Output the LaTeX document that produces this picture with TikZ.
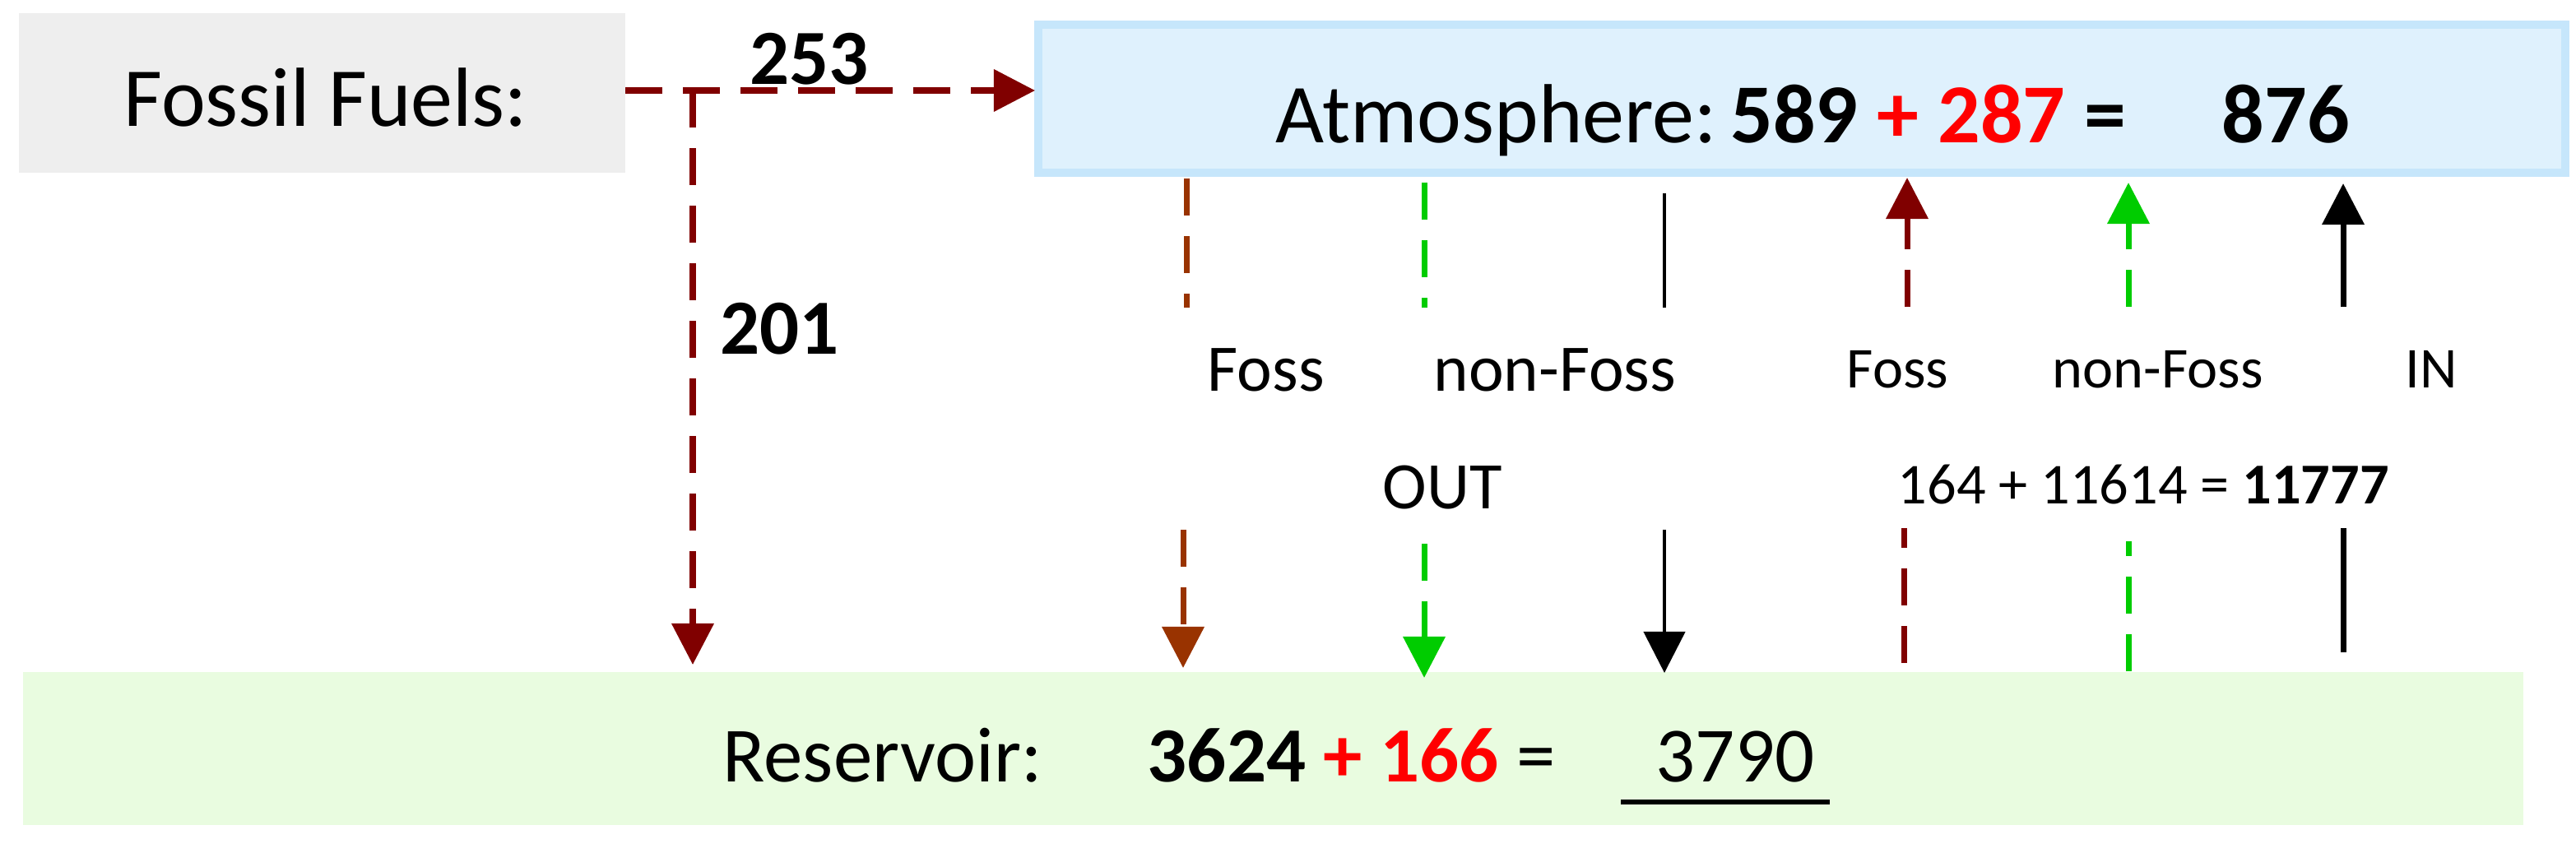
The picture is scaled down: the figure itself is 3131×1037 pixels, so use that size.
\documentclass[tikz,border=0pt]{standalone}
\usepackage{fontspec}
\setmainfont{Carlito}
\usetikzlibrary{arrows.meta}
\definecolor{fossred}{HTML}{800000}
\definecolor{fossbrown}{HTML}{993300}
\definecolor{nongreen}{HTML}{00CC00}
\definecolor{atmofill}{HTML}{DFF1FD}
\definecolor{atmoline}{HTML}{C6E6FB}
\definecolor{resfill}{HTML}{E9FCE0}
\definecolor{fuelfill}{HTML}{EEEEEE}
\begin{document}
\begin{tikzpicture}[x=0.01cm, y=-0.01cm,
    txt/.style={anchor=base west, inner sep=0pt, font=\fontsize{27}{30}\selectfont},
    btxt/.style={anchor=base west, inner sep=0pt, font=\fontsize{29}{32}\selectfont},
    lab/.style={anchor=base west, inner sep=0pt, font=\fontsize{23}{26}\selectfont},
    slab/.style={anchor=base west, inner sep=0pt, font=\fontsize{20}{23}\selectfont},
    tip/.style={-{Triangle[length=0.5cm, width=0.5cm]}},
    dsh/.style={line width=2pt, dash pattern=on 0.45cm off 0.25cm}]
        \useasboundingbox (0, 0) rectangle (3131, 1037);
        % Boxes
        \fill [fuelfill] (23, 16) rectangle (760, 210);
        \draw [atmoline, line width=3pt, fill=atmofill] (1262, 30) rectangle (3118, 210);
        \fill [resfill] (28, 817) rectangle (3067, 1003);
        \node [btxt] (fuel) at (150, 154) {Fossil Fuels:};
        \node [btxt] (atmo) at (1550, 174) {Atmosphere:\,\textbf{589} \textcolor{red}{\textbf{+ 287}} \textbf{=}};
        \node [btxt] (atmosum) at (2700, 174) {\textbf{876}};
        \node [txt] (res) at (878, 950) {Reservoir:};
        \node [txt] (ressum) at (1394, 950) {\textbf{3624} \textcolor{red}{\textbf{+ 166}} =};
        \node [txt] (restot) at (2012, 950) {3790};
        \draw [line width=1.5pt] (1970, 975) -- (2224, 975);
        % Fossil fuel flows
        \coordinate (split) at (842, 110);
        \coordinate (fstart) at (760, 110);
        \coordinate (fatmo) at (1258, 110);
        \coordinate (fres) at (842, 808);
        \draw [fossred, dsh, tip] (fstart) -- (fatmo);
        \draw [fossred, dsh, tip] (split) -- (fres);
        \node [txt, font=\fontsize{27}{30}\selectfont\bfseries] (nA) at (911, 103) {253};
        \node [txt, font=\fontsize{27}{30}\selectfont\bfseries] (nB) at (875, 431) {201};
        % OUT arrows
        \coordinate (o1a) at (1442, 217); \coordinate (o1b) at (1442, 374);
        \coordinate (o2a) at (1731, 222); \coordinate (o2b) at (1731, 374);
        \coordinate (o3a) at (2023, 235); \coordinate (o3b) at (2023, 374);
        \coordinate (o1c) at (1438, 644); \coordinate (o1d) at (1438, 812);
        \coordinate (o2c) at (1731, 661); \coordinate (o2d) at (1731, 824);
        \coordinate (o3c) at (2023, 644); \coordinate (o3d) at (2023, 818);
        \draw [fossbrown, dsh] (o1a) -- (o1b);
        \draw [nongreen, dsh] (o2a) -- (o2b);
        \draw [line width=1.2pt] (o3a) -- (o3b);
        \draw [fossbrown, dsh, tip] (o1c) -- (o1d);
        \draw [nongreen, dsh, tip] (o2c) -- (o2d);
        \draw [line width=1.2pt, tip] (o3c) -- (o3d);
        % IN arrows
        \coordinate (i1a) at (2314, 806); \coordinate (i1b) at (2314, 642);
        \coordinate (i2a) at (2587, 816); \coordinate (i2b) at (2587, 658);
        \coordinate (i3a) at (2848, 793); \coordinate (i3b) at (2848, 642);
        \coordinate (i1c) at (2318, 373); \coordinate (i1d) at (2318, 216);
        \coordinate (i2c) at (2587, 373); \coordinate (i2d) at (2587, 222);
        \coordinate (i3c) at (2848, 373); \coordinate (i3d) at (2848, 223);
        \draw [fossred, dsh] (i1a) -- (i1b);
        \draw [nongreen, dsh] (i2a) -- (i2b);
        \draw [line width=2pt] (i3a) -- (i3b);
        \draw [fossred, dsh, tip] (i1c) -- (i1d);
        \draw [nongreen, dsh, tip] (i2c) -- (i2d);
        \draw [line width=2pt, tip] (i3c) -- (i3d);
        % Labels
        \node [lab] (lfo) at (1467, 476) {Foss};
        \node [lab] (lno) at (1742, 476) {non-Foss};
        \node [slab] (rfo) at (2244, 472) {Foss};
        \node [slab] (rno) at (2494, 472) {non-Foss};
        \node [slab] (rin) at (2923, 472) {IN};
        \node [lab] (out) at (1680, 619) {OUT};
        \node [slab] (insum) at (2306, 613) {164 + 11614 = \textbf{11777}};
    \end{tikzpicture}
\end{document}
